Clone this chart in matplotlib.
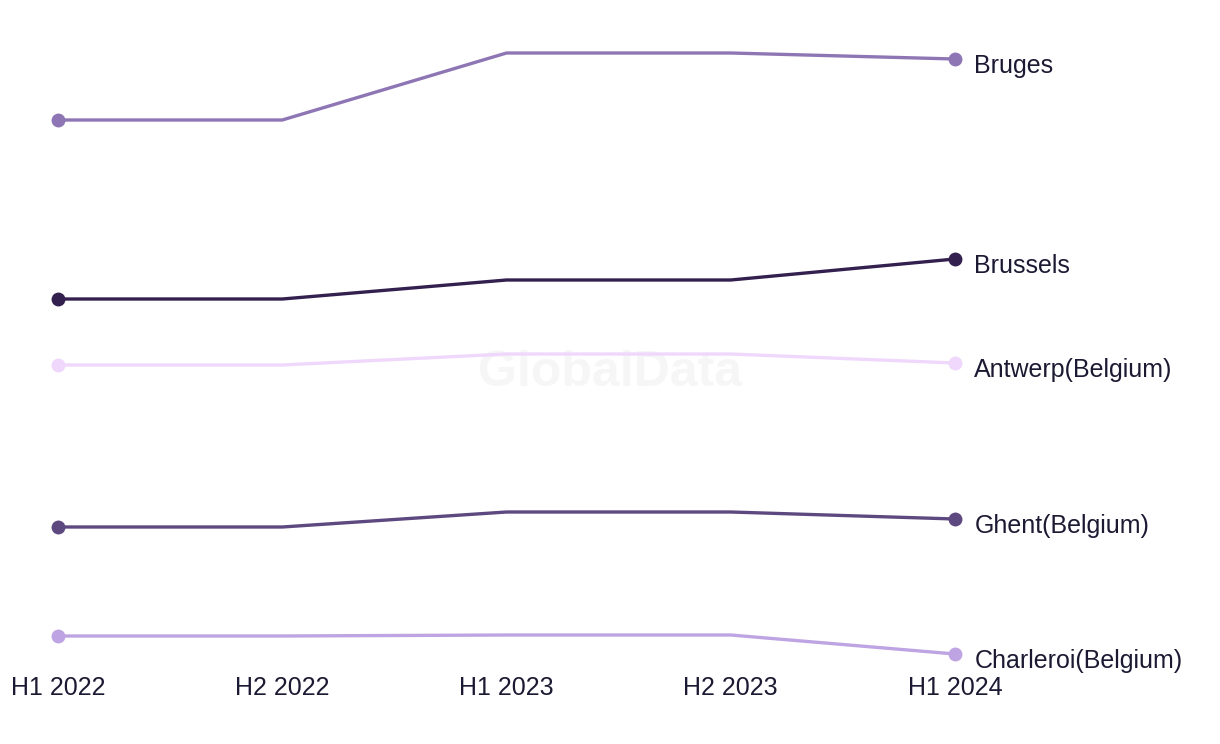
import matplotlib
matplotlib.use("Agg")
import matplotlib.pyplot as plt

periods = ["H1 2022", "H2 2022", "H1 2023", "H2 2023", "H1 2024"]
cities = ["Bruges", "Brussels", "Antwerp(Belgium)", "Ghent(Belgium)", "Charleroi(Belgium)"]
bruges = [56.0, 56.0, 62.7, 62.7, 62.1]
brussels = [38.1, 38.1, 40.0, 40.0, 42.1]
antwerp = [31.5, 31.5, 32.6, 32.6, 31.7]
ghent = [15.3, 15.3, 16.8, 16.8, 16.1]
charleroi = [4.4, 4.4, 4.5, 4.5, 2.6]
series = [bruges, brussels, antwerp, ghent, charleroi]
colors = ["#8E76B5", "#33204F", "#EFD8FB", "#5E4880", "#BEA4E2"]

plt.rcParams['font.family'] = ['Liberation Sans', 'DejaVu Sans']
text_color = "#1C1A33"

fig = plt.figure(figsize=(12.2, 7.44), dpi=100)
ax = fig.add_axes([0, 74 / 744, 1, 670 / 744])
x = list(range(len(periods)))

ax.text(0.5, (744 - 373 - 74) / 670, "GlobalData", transform=ax.transAxes,
        ha="center", va="center", fontsize=36, fontweight="bold",
        color="#F6F6F6", zorder=0)

for name, vals, c in zip(cities, series, colors):
    ax.plot(x, vals, color=c, linewidth=2.4, zorder=2, solid_capstyle="round")
    ax.plot([x[0], x[-1]], [vals[0], vals[-1]], 'o', color=c, markersize=10,
            zorder=3, markeredgewidth=0)
    ax.annotate(name, (x[-1], vals[-1]), xytext=(14, -5), textcoords="offset points",
                ha="left", va="center", fontsize=18, color=text_color)

ax.set_xlim(-58 / 224.25, (1220 - 58) / 224.25)
ax.set_ylim(1.0, 68.0)
ax.set_xticks(x)
ax.set_xticklabels(periods, fontsize=18, color=text_color)
ax.tick_params(axis="x", length=0, pad=4)
ax.set_yticks([])
for s in ax.spines.values():
    s.set_visible(False)
ax.patch.set_alpha(0)

fig.savefig("out.png", dpi=100, facecolor="white")
